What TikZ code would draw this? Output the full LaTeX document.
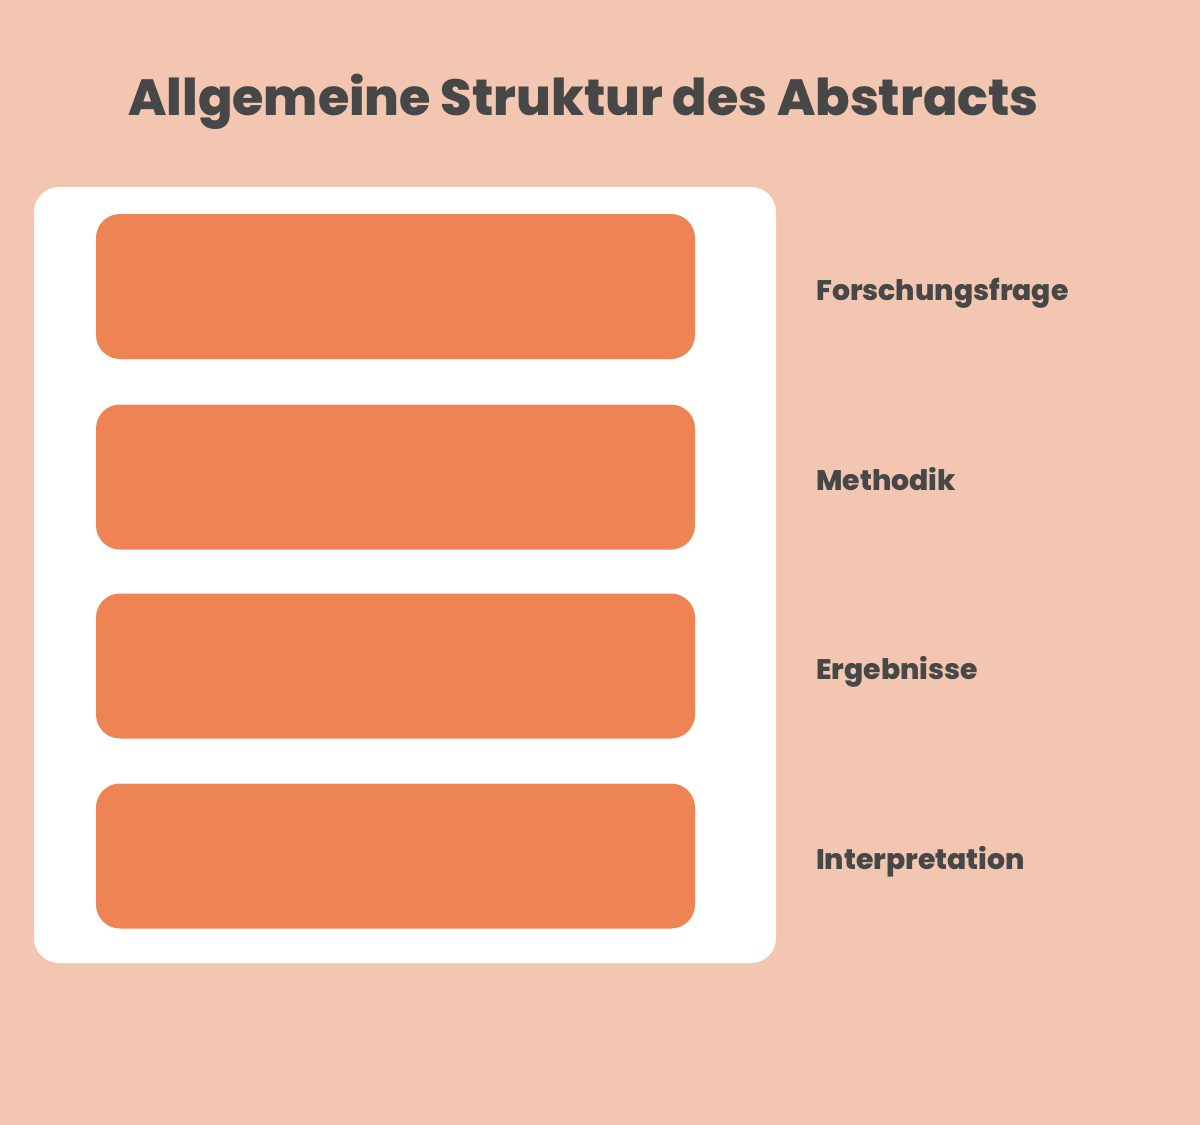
\documentclass[tikz,border=0pt]{standalone}
\usepackage{fontspec}
\setmainfont{Poppins}[BoldFont={Poppins ExtraBold}]
\definecolor{bg}{HTML}{F2C6B0}
\definecolor{bar}{HTML}{EE8353}
\definecolor{txt}{HTML}{474747}
\tikzset{
  panel/.style={fill=white, draw=none, rounded corners=25pt},
  barbox/.style={fill=bar, draw=none, rounded corners=24pt},
  lab/.style={anchor=west, text=txt, font=\fontsize{28.3}{31}\selectfont\bfseries, inner sep=0pt},
  ttl/.style={text=txt, font=\fontsize{50.8}{55}\selectfont\bfseries, inner sep=0pt}
}
\begin{document}
\begin{tikzpicture}[x=1pt,y=-1pt]
\fill[bg] (0,0) rectangle (1200,1125);
\useasboundingbox (0,0) rectangle (1200,1125);
\node[ttl, anchor=base] (title) at (583.5,115) {Allgemeine Struktur des Abstracts};
\fill[panel] (34,187) rectangle (776,963);
\node[barbox, minimum width=599pt, minimum height=145pt] (b1) at (395.5,286.5) {};
\node[barbox, minimum width=599pt, minimum height=145pt] (b2) at (395.5,477) {};
\node[barbox, minimum width=599pt, minimum height=145pt] (b3) at (395.5,666) {};
\node[barbox, minimum width=599pt, minimum height=145pt] (b4) at (395.5,856) {};
\node[lab, anchor=base west] (l1) at (816,300) {Forschungsfrage};
\node[lab, anchor=base west] (l2) at (816,490) {Methodik};
\node[lab, anchor=base west] (l3) at (816,679) {Ergebnisse};
\node[lab, anchor=base west] (l4) at (816,869) {Interpretation};
\end{tikzpicture}
\end{document}
